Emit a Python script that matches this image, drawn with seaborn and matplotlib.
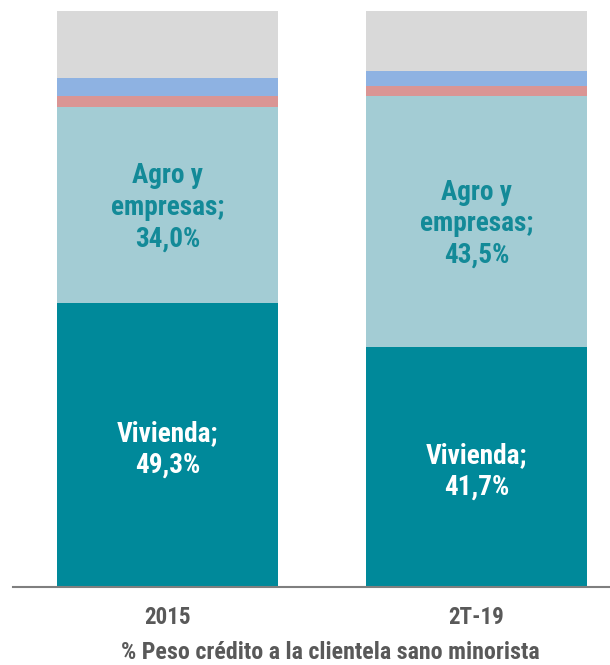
import os
import matplotlib
matplotlib.use("Agg")
import matplotlib.pyplot as plt
from matplotlib import font_manager
from matplotlib.font_manager import FontProperties
import seaborn as sns
import numpy as np
import pandas as pd

categories = ["2015", "2T-19"]
segments = ["Vivienda", "Agro y empresas", "Rojo", "Azul", "Otros"]
vivienda = [49.3, 41.7]
agro = [34.0, 43.5]
rojo = [1.9, 1.7]
azul = [3.1, 2.6]
otros = [11.7, 10.5]
colors = ["#00899A", "#A3CCD4", "#DA9594", "#8EB2E2", "#D9D9D9"]
xlabel = "% Peso crédito a la clientela sano minorista"

sns.set_theme(style="white")
plt.rcParams['font.family'] = ['Liberation Sans', 'DejaVu Sans']

# find a bold narrow font file if one is installed
cands = []
for f in font_manager.fontManager.ttflist:
    base = os.path.basename(f.fname)
    key = f.name + " " + base
    if ("Narrow" in key or "Condensed" in key) and "Bold" in base \
            and "Italic" not in base and "Oblique" not in base:
        cands.append(f)
cands.sort(key=lambda f: (0 if "Liberation" in f.fname else
                          1 if "Roboto" in f.fname else 2, f.fname))
if cands:
    fp = FontProperties(fname=cands[0].fname)
    comp = 1.0
else:
    fp = FontProperties(family=["Liberation Sans", "DejaVu Sans"], weight="bold")
    comp = 1.07

fig = plt.figure(figsize=(6.10, 6.65), dpi=100)
ax = fig.add_axes([13/610, (665-587)/665, 1 - 13/610, (587-11)/665])
renderer = fig.canvas.get_renderer()


def fit(txt, target_px, base=20):
    t = fig.text(0, 0, txt, fontproperties=fp, fontsize=base)
    w = t.get_window_extent(renderer=renderer).width
    t.remove()
    return base * target_px / w * comp


series = [vivienda, agro, rojo, azul, otros]
cum = np.cumsum(np.array(series), axis=0)
for i in range(len(series) - 1, -1, -1):
    df = pd.DataFrame({"cat": categories, "val": cum[i]})
    sns.barplot(data=df, x="cat", y="val", color=colors[i], width=0.715,
                saturation=1, ax=ax, edgecolor="none", linewidth=0)

lab_fs = fit("empresas;", 113)
tick_fs = fit("2015", 46.5)
title_fs = fit(xlabel, 417)

for j, cat in enumerate(categories):
    ya = vivienda[j] + agro[j] / 2
    ax.text(j, ya - 0.4, f"Agro y\nempresas;\n{agro[j]:.1f}%".replace(".", ","),
            ha="center", va="center", fontproperties=fp, fontsize=lab_fs,
            color="#138A98", linespacing=1.22)
    yv = vivienda[j] / 2
    ax.text(j, yv - 0.8, f"Vivienda;\n{vivienda[j]:.1f}%".replace(".", ","),
            ha="center", va="center", fontproperties=fp, fontsize=lab_fs,
            color="white", linespacing=1.22)

ax.set_ylim(0, 100)
ax.set_xlim(-0.503 + 1/309, 1.432)
ax.set_yticks([])
for s in ["top", "right", "left"]:
    ax.spines[s].set_visible(False)
ax.spines["bottom"].set_color("#7F7F7F")
ax.spines["bottom"].set_linewidth(1.5)
ax.tick_params(axis="x", length=0, pad=14)
for lbl in ax.get_xticklabels():
    lbl.set_fontproperties(fp)
    lbl.set_fontsize(tick_fs)
    lbl.set_color("#595959")
ax.set_xlabel("")
ax.set_ylabel("")
fig.text(330/610, 1 - 659/665, xlabel, ha="center", va="baseline",
         fontproperties=fp, fontsize=title_fs, color="#595959")

fig.savefig("out.png", dpi=100)
